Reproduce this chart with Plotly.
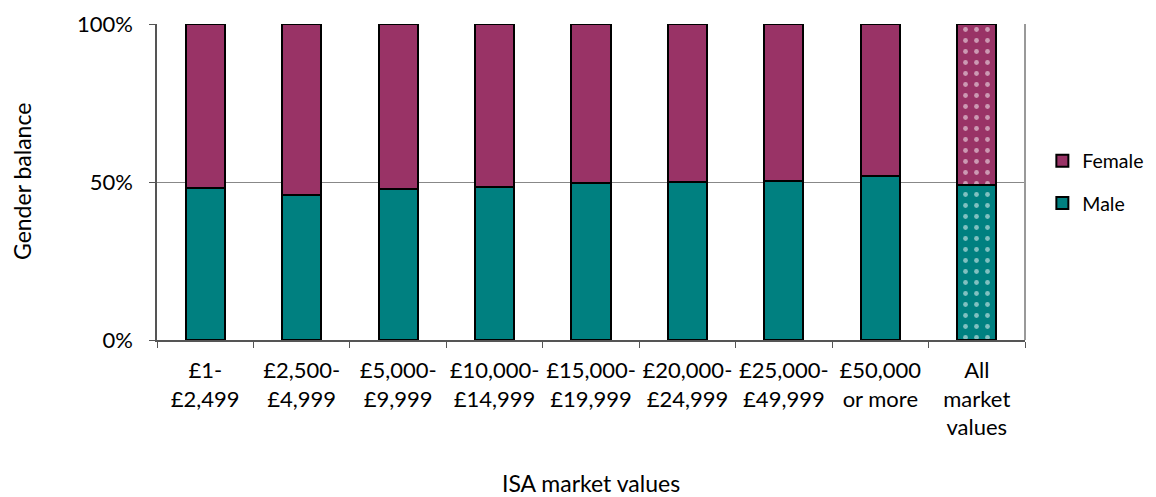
import plotly.graph_objects as go

categories = ["£1-<br>£2,499", "£2,500-<br>£4,999", "£5,000-<br>£9,999", "£10,000-<br>£14,999",
              "£15,000-<br>£19,999", "£20,000-<br>£24,999", "£25,000-<br>£49,999",
              "£50,000<br>or more", "All<br>market<br>values"]
male = [48.1, 45.9, 47.8, 48.4, 49.7, 50.0, 50.3, 51.9, 49.0]
female = [100 - m for m in male]
patterns = [""] * 8 + ["."]

FONT = "Lato, Open Sans, sans-serif"
fig = go.Figure()
fig.add_trace(go.Bar(x=categories, y=male, name="Male", legendrank=2, legendgroup="m",
                     marker=dict(color="#008080", line=dict(color="black", width=2),
                                 pattern=dict(shape=patterns, fgcolor="white", size=11, solidity=0.15))))
fig.add_trace(go.Bar(x=categories, y=female, name="Female", legendrank=1, legendgroup="f",
                     marker=dict(color="#993366", line=dict(color="black", width=2),
                                 pattern=dict(shape=patterns, fgcolor="white", size=11, solidity=0.15))))

# page body adds an 8px offset; figure is sized/margined to compensate
fig.update_layout(
    barmode="stack", bargap=0.595,
    width=1148, height=489,
    margin=dict(l=149, r=131, t=16, b=157, autoexpand=False),
    plot_bgcolor="white", paper_bgcolor="white",
    font=dict(family=FONT, size=22, color="black"),
    legend=dict(x=1.02, y=0.5, yanchor="middle", xanchor="left", traceorder="grouped",
                font=dict(size=19.5), itemwidth=30, tracegroupgap=14),
    showlegend=True,
)
fig.update_xaxes(showline=True, linecolor="#555555", linewidth=1.5, ticks="outside",
                 tickson="boundaries", ticklen=6, tickcolor="#555555", mirror=False,
                 tickfont=dict(size=22), tickangle=0, automargin=False, ticklabelstandoff=10)
fig.update_yaxes(range=[0, 100], tickvals=[0, 50, 100], ticktext=["0%", "50%", "100%"],
                 showline=True, linecolor="#555555", linewidth=1.5, ticks="outside", ticklen=6,
                 tickcolor="#555555", showgrid=True, gridcolor="#888888", gridwidth=1.2,
                 tickfont=dict(size=22), zeroline=False, automargin=False, ticklabelstandoff=12)
# right border of plot area
fig.add_shape(type="line", xref="paper", yref="paper", x0=1, x1=1, y0=0, y1=1,
              line=dict(color="#999999", width=2))
fig.add_annotation(text="Gender balance", xref="paper", yref="paper", x=-0.1555, y=0.5,
                   textangle=-90, showarrow=False, font=dict(size=23), xanchor="center", yanchor="middle")
fig.add_annotation(text="ISA market values", xref="paper", yref="paper", x=0.5, y=-0.452,
                   showarrow=False, font=dict(size=23), xanchor="center", yanchor="middle")

fig.write_html("out.html")
